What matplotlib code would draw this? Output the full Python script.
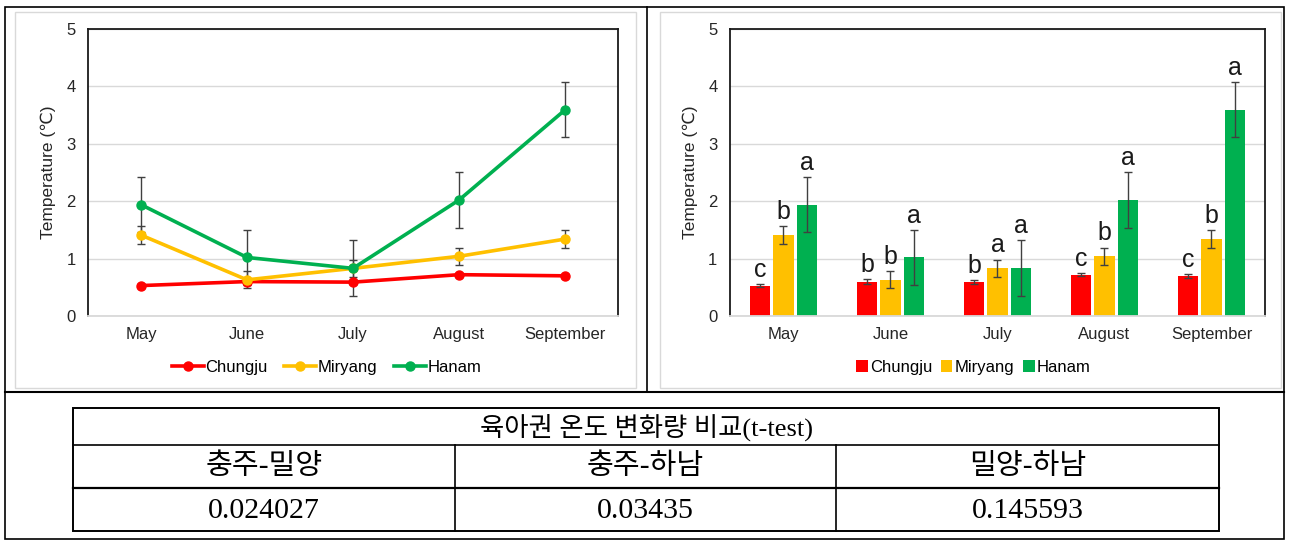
import numpy as np
import matplotlib.pyplot as plt
from matplotlib.patches import Rectangle

months = ["May", "June", "July", "August", "September"]
sites = ["Chungju", "Miryang", "Hanam"]
colors = ["#FF0000", "#FFC000", "#00B050"]

chungju = [0.53, 0.60, 0.59, 0.72, 0.70]
miryang = [1.41, 0.63, 0.83, 1.04, 1.34]
hanam = [1.94, 1.02, 0.83, 2.02, 3.59]

chungju_err = [0.03, 0.04, 0.03, 0.03, 0.03]
miryang_err = [0.15, 0.15, 0.15, 0.15, 0.15]
hanam_err = [0.48, 0.48, 0.49, 0.49, 0.48]

letters_chungju = ["c", "b", "b", "c", "c"]
letters_miryang = ["b", "b", "a", "b", "b"]
letters_hanam = ["a", "a", "a", "a", "a"]

table_title = "육아권 온도 변화량 비교(t-test)"
pairs = ["충주-밀양", "충주-하남", "밀양-하남"]
p_values = ["0.024027", "0.03435", "0.145593"]

W, H = 1289, 542
plt.rcParams["font.family"] = ["Liberation Sans Narrow", "Liberation Sans", "DejaVu Sans"]

fig = plt.figure(figsize=(W / 100, H / 100), dpi=100)

# background layer in pixel coordinates for frames and the table
bg = fig.add_axes([0, 0, 1, 1])
bg.set_xlim(0, W)
bg.set_ylim(H, 0)
bg.axis("off")

bg.add_patch(Rectangle((5, 7), 1279, 532, fill=False, ec="black", lw=1.2))
bg.plot([647, 647], [7, 392], color="black", lw=1.2)
bg.plot([5, 1284], [392, 392], color="black", lw=1.5)
bg.add_patch(Rectangle((15, 12), 621, 376, fill=False, ec="#d9d9d9", lw=1))
bg.add_patch(Rectangle((660, 12), 621, 376, fill=False, ec="#d9d9d9", lw=1))

# t-test table
tx0, tx1 = 73, 1219
ty = [408, 445, 488, 531]
cx = [tx0, 455, 836, tx1]
bg.add_patch(Rectangle((tx0, ty[0]), tx1 - tx0, ty[3] - ty[0], fill=False, ec="black", lw=1.4))
bg.plot([tx0, tx1], [ty[1], ty[1]], color="black", lw=1.2)
bg.plot([tx0, tx1], [ty[2], ty[2]], color="black", lw=1.6)
for x in cx[1:3]:
    bg.plot([x, x], [ty[1], ty[3]], color="black", lw=1.2)

serif_kr = ["Liberation Serif", "Noto Sans CJK KR"]
bg.text((tx0 + tx1) / 2, (ty[0] + ty[1]) / 2 + 1, table_title, family=serif_kr,
        fontsize=19, ha="center", va="center")
for i in range(3):
    xc = (cx[i] + cx[i + 1]) / 2
    bg.text(xc, (ty[1] + ty[2]) / 2, pairs[i], family=serif_kr,
            fontsize=21, ha="center", va="center")
    bg.text(xc, (ty[2] + ty[3]) / 2 + 1, p_values[i], family=serif_kr,
            fontsize=21.5, ha="center", va="center")


def style_axes(ax):
    ax.set_xlim(-0.5, 4.5)
    ax.set_ylim(0, 5)
    ax.set_yticks(range(6))
    ax.set_xticks(range(5))
    ax.set_xticklabels(months)
    ax.tick_params(axis="both", length=0, labelsize=12, colors="#262626")
    ax.tick_params(axis="x", pad=8)
    ax.tick_params(axis="y", pad=9)
    for s in ["left", "top", "right"]:
        ax.spines[s].set_color("#1a1a1a")
        ax.spines[s].set_linewidth(1.3)
    ax.spines["bottom"].set_color("#d9d9d9")
    ax.spines["bottom"].set_linewidth(1.3)
    ax.yaxis.grid(True, color="#d9d9d9", lw=1)
    ax.set_axisbelow(True)
    ax.set_ylabel("Temperature (℃)", fontsize=12.5, color="#262626",
                  family=["Liberation Sans", "DejaVu Sans"], labelpad=7)


x = np.arange(len(months))
series = [chungju, miryang, hanam]
errs = [chungju_err, miryang_err, hanam_err]
letters = [letters_chungju, letters_miryang, letters_hanam]

# line chart
ax1 = fig.add_axes([88 / W, 1 - 316 / H, 530 / W, 287 / H])
for vals, err, c, name in zip(series, errs, colors, sites):
    ax1.errorbar(x, vals, yerr=err, fmt="none", ecolor="#404040", elinewidth=1,
                 capsize=3, capthick=1, zorder=2)
    ax1.plot(x, vals, color=c, lw=2.6, marker="o", ms=6.5, label=name, zorder=3)
style_axes(ax1)
ax1.legend(loc="upper center", bbox_to_anchor=(0.45, -0.1), ncol=3, frameon=False,
           fontsize=12, handlelength=1.9, columnspacing=1.0, handletextpad=0.1)

# bar chart with significance letters
ax2 = fig.add_axes([730 / W, 1 - 316 / H, 535 / W, 287 / H])
offsets = [-0.22, 0.0, 0.22]
for vals, err, c, name, off, lab in zip(series, errs, colors, sites, offsets, letters):
    ax2.bar(x + off, vals, width=0.19, color=c, label=name, zorder=2)
    ax2.errorbar(x + off, vals, yerr=err, fmt="none", ecolor="#404040", elinewidth=1,
                 capsize=3, capthick=1, zorder=3)
    for xi, v, e, t in zip(x + off, vals, err, lab):
        ax2.text(xi, v + e + 0.04, t, ha="center", va="bottom", fontsize=18,
                 family=["Liberation Sans", "DejaVu Sans"], color="#1a1a1a")
style_axes(ax2)
ax2.legend(loc="upper center", bbox_to_anchor=(0.455, -0.1), ncol=3, frameon=False,
           fontsize=12, handlelength=0.7, handleheight=0.7, columnspacing=0.5,
           handletextpad=0.15)

fig.savefig("out.png", dpi=100)
